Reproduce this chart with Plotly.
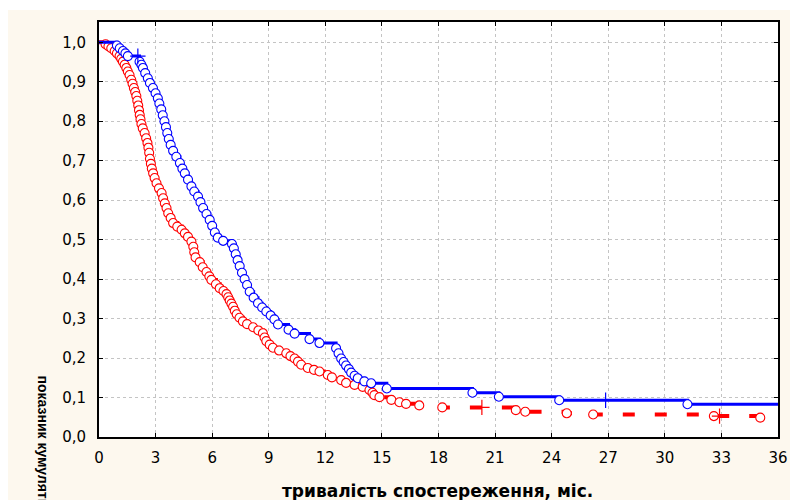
import plotly.graph_objects as go

# ---- data ----
x_ticks = [0, 3, 6, 9, 12, 15, 18, 21, 24, 27, 30, 33, 36]
y_ticks = [0.0, 0.1, 0.2, 0.3, 0.4, 0.5, 0.6, 0.7, 0.8, 0.9, 1.0]
y_tick_text = ["0,0", "0,1", "0,2", "0,3", "0,4", "0,5", "0,6", "0,7", "0,8", "0,9", "1,0"]

blue_t = [0.95, 1.1, 1.27, 1.4, 1.53, 2.15, 2.25, 2.33, 2.45, 2.59, 2.7, 2.86, 3.0, 3.12,
          3.2, 3.3, 3.38, 3.47, 3.55, 3.62, 3.7, 3.8, 3.93, 4.1, 4.29, 4.42, 4.55, 4.72,
          4.9, 5.05, 5.25, 5.38, 5.52, 5.7, 5.87, 6.0, 6.14, 6.3, 6.58, 7.05, 7.15, 7.25,
          7.35, 7.46, 7.58, 7.72, 7.85, 7.99, 8.2, 8.43, 8.65, 8.87, 9.1, 9.3, 9.49, 10.05,
          10.37, 11.16, 11.69, 12.57, 12.7, 12.84, 12.97, 13.1, 13.25, 13.37, 13.55, 13.72,
          14.07, 14.43, 15.26, 19.8, 21.2, 24.4, 31.2]
blue_s = [0.992, 0.985, 0.978, 0.972, 0.965, 0.951, 0.943, 0.935, 0.922, 0.909, 0.897, 0.884,
          0.871, 0.858, 0.845, 0.83, 0.815, 0.80, 0.785, 0.77, 0.755, 0.74, 0.725, 0.71, 0.694,
          0.68, 0.668, 0.652, 0.635, 0.622, 0.609, 0.595, 0.58, 0.565, 0.55, 0.535, 0.518, 0.505,
          0.497, 0.489, 0.478, 0.463, 0.448, 0.433, 0.416, 0.40, 0.385, 0.368, 0.353, 0.339,
          0.328, 0.318, 0.308, 0.298, 0.285, 0.272, 0.262, 0.248, 0.238, 0.225, 0.212, 0.199,
          0.19, 0.181, 0.172, 0.163, 0.155, 0.149, 0.141, 0.136, 0.123, 0.112, 0.102, 0.093, 0.083]
blue_cens_t = [2.06, 26.86]
blue_cens_s = [0.965, 0.093]

red_t = [0.35, 0.5, 0.65, 0.83, 0.95, 1.09, 1.18, 1.27, 1.36, 1.45, 1.53, 1.62, 1.71, 1.78,
         1.85, 1.92, 1.98, 2.03, 2.08, 2.12, 2.16, 2.2, 2.25, 2.32, 2.42, 2.5, 2.57, 2.62, 2.66,
         2.70, 2.75, 2.8, 2.87, 2.95, 3.05, 3.18, 3.32, 3.4, 3.49, 3.58, 3.67, 3.8, 3.93, 4.15,
         4.38, 4.55, 4.72, 4.9, 5.0, 5.05, 5.12, 5.34, 5.5, 5.7, 5.85, 5.96, 6.2, 6.4, 6.6, 6.76,
         6.85, 6.93, 7.02, 7.11, 7.2, 7.3, 7.45, 7.63, 7.85, 8.17, 8.45, 8.69, 8.78, 8.87, 9.05,
         9.22, 9.55, 9.93, 10.15, 10.37, 10.55, 10.72, 11.07, 11.4, 11.69, 12.13, 12.35, 12.84,
         13.1, 13.55, 13.98, 14.34, 14.5, 14.6, 14.87, 15.5, 15.93, 16.28, 16.98, 18.2, 22.1,
         22.6, 24.8, 26.2, 32.6, 35.06]
red_s = [0.995, 0.99, 0.985, 0.978, 0.972, 0.965, 0.958, 0.951, 0.943, 0.935, 0.926, 0.917,
         0.905, 0.895, 0.884, 0.874, 0.864, 0.852, 0.84, 0.828, 0.816, 0.805, 0.793, 0.782, 0.77,
         0.757, 0.745, 0.733, 0.72, 0.705, 0.692, 0.68, 0.668, 0.656, 0.643, 0.63, 0.618, 0.605,
         0.592, 0.58, 0.567, 0.555, 0.542, 0.533, 0.525, 0.516, 0.507, 0.495, 0.482, 0.468,
         0.455, 0.443, 0.43, 0.418, 0.407, 0.398, 0.387, 0.377, 0.37, 0.362, 0.354, 0.346,
         0.338, 0.33, 0.32, 0.311, 0.302, 0.293, 0.286, 0.278, 0.27, 0.263, 0.252, 0.243, 0.234,
         0.226, 0.219, 0.212, 0.205, 0.199, 0.191, 0.183, 0.175, 0.17, 0.166, 0.157, 0.151,
         0.144, 0.137, 0.132, 0.127, 0.119, 0.112, 0.106, 0.101, 0.094, 0.088, 0.084, 0.080,
         0.075, 0.068, 0.064, 0.060, 0.057, 0.053, 0.049]
red_cens_t = [20.3, 32.9]
red_cens_s = [0.075, 0.053]

x_title = "тривалість спостереження, міс."
y_title = "показник кумулятивного виживання"

X_MAX = 36

BLUE = "#0000ff"
RED = "#ff0000"

fig = go.Figure()

# red group
fig.add_trace(go.Scatter(
    x=[0] + red_t + [X_MAX], y=[1.0] + red_s + [red_s[-1]],
    mode="lines", line=dict(color=RED, width=4, dash="12px,20px", shape="hv"),
    hoverinfo="skip", showlegend=False))
fig.add_trace(go.Scatter(
    x=red_t, y=red_s, mode="markers",
    marker=dict(symbol="circle", size=9, color="white", line=dict(color=RED, width=1.1)),
    showlegend=False))
fig.add_trace(go.Scatter(
    x=red_cens_t, y=red_cens_s, mode="markers",
    marker=dict(symbol="cross-thin", size=11, line=dict(color=RED, width=1.2)),
    showlegend=False))

# blue group
fig.add_trace(go.Scatter(
    x=[0] + blue_t + [X_MAX], y=[1.0] + blue_s + [blue_s[-1]],
    mode="lines", line=dict(color=BLUE, width=3, shape="hv"),
    hoverinfo="skip", showlegend=False))
fig.add_trace(go.Scatter(
    x=blue_t, y=blue_s, mode="markers",
    marker=dict(symbol="circle", size=9, color="white", line=dict(color=BLUE, width=1.1)),
    showlegend=False))
fig.add_trace(go.Scatter(
    x=blue_cens_t, y=blue_cens_s, mode="markers",
    marker=dict(symbol="cross-thin", size=11, line=dict(color=BLUE, width=1.2)),
    showlegend=False))

W, H = 790, 500
L, R, T, B = 99, 12, 22, 63
pw, ph = W - L - R, H - T - B

def px_x(p):
    return (p - L) / pw

def px_y(p):
    return (H - B - p) / ph

tick_font = dict(family="DejaVu Sans", size=15, color="black")

fig.update_layout(
    width=W, height=H,
    margin=dict(l=L, r=R, t=T, b=B, pad=0, autoexpand=False),
    paper_bgcolor="#fdf8ee",
    plot_bgcolor="white",
    xaxis=dict(
        range=[0, X_MAX], tickvals=x_ticks, ticktext=[str(v) for v in x_ticks],
        showgrid=True, gridcolor="#c4c4c4", griddash="3px,3px", gridwidth=1,
        showline=True, linecolor="black", linewidth=2, mirror="ticks",
        ticks="inside", ticklen=4, tickcolor="black", tickwidth=1,
        tickfont=tick_font, ticklabelstandoff=6, zeroline=False, automargin=False),
    yaxis=dict(
        range=[0, 1.0514], tickvals=y_ticks, ticktext=y_tick_text,
        showgrid=True, gridcolor="#c4c4c4", griddash="3px,3px", gridwidth=1,
        showline=True, linecolor="black", linewidth=2, mirror="ticks",
        ticks="inside", ticklen=4, tickcolor="black", tickwidth=1,
        tickfont=tick_font, ticklabelstandoff=8, zeroline=False, automargin=False),
    shapes=[
        dict(type="rect", xref="paper", yref="paper", layer="below",
             x0=px_x(-5), x1=px_x(W + 5), y0=px_y(10), y1=px_y(-5),
             fillcolor="white", line=dict(width=0)),
        dict(type="rect", xref="paper", yref="paper", layer="below",
             x0=px_x(-5), x1=px_x(8), y0=px_y(H + 5), y1=px_y(-5),
             fillcolor="white", line=dict(width=0)),
    ],
    annotations=[
        dict(text=x_title, xref="paper", yref="paper", x=px_x(437), y=px_y(491),
             xanchor="center", yanchor="middle", showarrow=False,
             font=dict(family="DejaVu Sans", size=17, color="black", weight="bold")),
        dict(text=y_title, xref="paper", yref="paper", x=px_x(43), y=px_y(373),
             xanchor="center", yanchor="top", showarrow=False, textangle=90,
             font=dict(family="Liberation Sans", size=14, color="black", weight="bold")),
    ],
)

fig.write_html("out.html")
